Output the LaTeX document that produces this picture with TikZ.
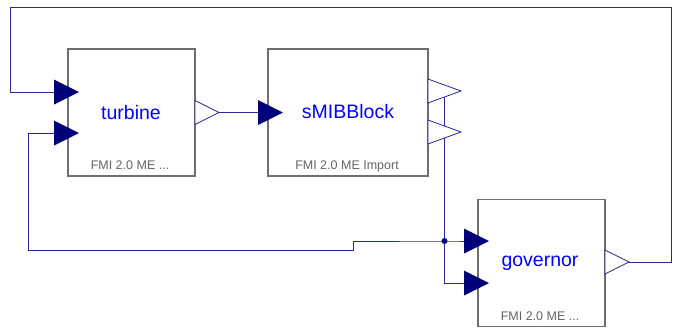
\documentclass[tikz,border=0pt]{standalone}
\usepackage{fontspec}
\setmainfont{Liberation Sans}
\begin{document}
\begin{tikzpicture}[x=1pt,y=-1pt,
  wire/.style={draw=wirecol,line width=1pt},
  block/.style={draw=boxgray,line width=1.6pt,fill=white,minimum width=127pt,minimum height=127pt,inner sep=0pt},
  bname/.style={text=blue,font=\fontsize{19.5}{22}\selectfont},
  bsub/.style={text=subgray,font=\fontsize{12.5}{14}\selectfont},
  pics/inport/.style={code={\fill[portcol] (-12.5,-12.5) -- (12.5,0) -- (-12.5,12.5) -- cycle;}},
  pics/outport/.style={code={\filldraw[fill=white,draw=wirecol,line width=0.8pt] (-#1,-12) -- (#1,0) -- (-#1,12) -- cycle;}},
  pics/outport/.default=12
]
\definecolor{wirecol}{RGB}{40,40,150}
\definecolor{portcol}{RGB}{0,0,120}
\definecolor{boxgray}{RGB}{110,110,110}
\definecolor{subgray}{RGB}{100,100,100}
\useasboundingbox (0,0) rectangle (683,327);
\fill[white] (0,0) rectangle (683,327);
% port coordinates
\coordinate (tin1) at (66.5,92);
\coordinate (tin2) at (66.5,133);
\coordinate (tout) at (207,112.5);
\coordinate (sin) at (270.5,112.5);
\coordinate (sout1) at (444.5,91);
\coordinate (sout2) at (444.5,132);
\coordinate (gin1) at (476.5,241);
\coordinate (gin2) at (476.5,283);
\coordinate (gout) at (617,262);
\coordinate (junc) at (444.5,241);
% wires
\draw[wire] (gout) -- (671,262) -- (671,7) -- (10,7) -- (10,92) -- (tin1);
\draw[wire] (tin2) -- (28,133) -- (28,250) -- (353,250) -- (353,241) -- (junc) -- (gin1);
\draw[wire] (sout1) -- (444.5,283) -- (gin2);
\draw[wire] (tout) -- (sin);
\fill[portcol] (junc) circle (3pt);
% blocks
\node[block] (turbine) at (131.5,112.5) {};
\node[block,minimum width=160pt] (smib) at (348,112.5) {};
\node[block] (gov) at (541.5,263) {};
\node[bname] (tname) at (131,113) {turbine};
\node[bname] (sname) at (348,112) {sMIBBlock};
\node[bname] (gname) at (540,263) {governor};
\node[bsub] (tsub) at (130,165) {FMI 2.0 ME ...};
\node[bsub] (ssub) at (347,166) {FMI 2.0 ME Import};
\node[bsub] (gsub) at (540,316) {FMI 2.0 ME ...};
% ports
\pic at (tin1) {inport};
\pic at (tin2) {inport};
\pic at (sin) {inport};
\pic at (gin1) {inport};
\pic at (gin2) {inport};
\pic at (tout) {outport};
\pic at (sout1) {outport=16.5};
\pic at (sout2) {outport=16.5};
\pic at (gout) {outport};
\end{tikzpicture}
\end{document}
